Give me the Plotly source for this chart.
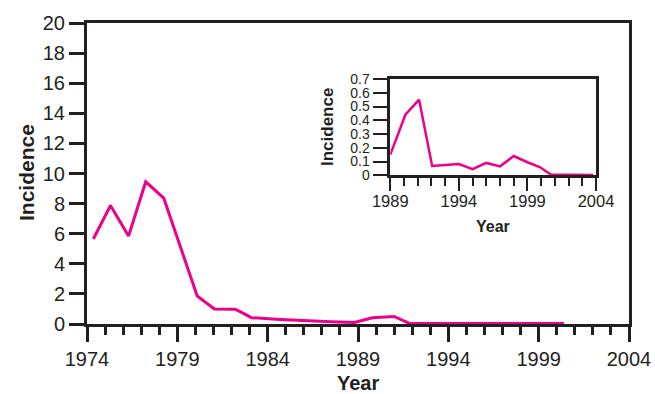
import plotly.graph_objects as go

# Main chart data
main_years = [1974.35, 1975.3, 1976.3, 1977.25, 1978.25, 1980.1, 1981.05, 1982.2,
              1982.5, 1983.1, 1984.7, 1986.0, 1987.5, 1988.8, 1989.8, 1991.0,
              1991.85, 2000.4]
main_incidence = [5.65, 7.87, 5.84, 9.45, 8.36, 1.86, 1.0, 0.98,
                  0.8, 0.42, 0.3, 0.22, 0.15, 0.1, 0.42, 0.5,
                  0.04, 0.04]

# Inset data
inset_years = [1989, 1990.1, 1991.1, 1992.05, 1993, 1994, 1995, 1996, 1997,
               1998, 1999, 1999.9, 2000.7, 2003.8]
inset_incidence = [0.15, 0.44, 0.55, 0.068, 0.075, 0.082, 0.045, 0.09, 0.065,
                   0.14, 0.095, 0.06, 0.005, 0.003]

main_yticks = list(range(0, 21, 2))
inset_yticks = [0, 0.1, 0.2, 0.3, 0.4, 0.5, 0.6, 0.7]
inset_ytext = ["0", "0.1", "0.2", "0.3", "0.4", "0.5", "0.6", "0.7"]

LINE = "#EC008C"
INK = "#231F20"
FONT = "Liberation Sans, Arial, sans-serif"

W, H = 655, 394
ML, MR, MT, MB = 87, 26, 23, 70
PW, PH = W - ML - MR, H - MT - MB


def px(x):
    return (x - ML) / PW


def py(y):
    return (H - MB - y) / PH


fig = go.Figure()
fig.add_trace(go.Scatter(x=main_years, y=main_incidence, mode="lines",
                         line=dict(color=LINE, width=3), xaxis="x", yaxis="y",
                         showlegend=False, hoverinfo="skip"))
fig.add_trace(go.Scatter(x=inset_years, y=inset_incidence, mode="lines",
                         line=dict(color=LINE, width=2.5), xaxis="x2", yaxis="y2",
                         showlegend=False, hoverinfo="skip"))

fig.update_layout(
    width=W, height=H,
    margin=dict(l=ML, r=MR, t=MT, b=MB, autoexpand=False),
    paper_bgcolor="white", plot_bgcolor="white",
    font=dict(family=FONT, color=INK),
    xaxis=dict(
        range=[1974, 2004], tick0=1974, dtick=5, ticks="outside", ticklen=15,
        tickwidth=2.5, tickcolor=INK, showline=True, linewidth=3, linecolor=INK,
        mirror=True, showgrid=False, zeroline=False, automargin=False,
        tickfont=dict(size=20, color=INK),
        minor=dict(dtick=1, tick0=1974, ticks="outside", ticklen=8, tickwidth=2.5,
                   tickcolor=INK, showgrid=False),
    ),
    yaxis=dict(
        range=[0, 20], tickvals=main_yticks, ticks="outside", ticklen=15,
        tickwidth=2.5, tickcolor=INK, showline=True, linewidth=3, linecolor=INK,
        mirror=True, showgrid=False, zeroline=False, automargin=False,
        tickfont=dict(size=20, color=INK),
    ),
    xaxis2=dict(
        domain=[px(390.3), px(596)], anchor="y2",
        range=[1989, 2004], tick0=1989, dtick=5, ticks="outside", ticklen=13,
        tickwidth=2, tickcolor=INK, showline=True, linewidth=2.5, linecolor=INK,
        mirror=True, showgrid=False, zeroline=False, automargin=False,
        tickfont=dict(size=16.5, color=INK), ticklabelstandoff=-4,
        minor=dict(dtick=1, tick0=1989, ticks="outside", ticklen=8, tickwidth=2,
                   tickcolor=INK, showgrid=False),
    ),
    yaxis2=dict(
        domain=[py(175.3), py(79)], anchor="x2",
        range=[0, 0.7], tickvals=inset_yticks, ticktext=inset_ytext,
        ticks="outside", ticklen=15, tickwidth=2, tickcolor=INK,
        showline=True, linewidth=2.5, linecolor=INK, mirror=True,
        showgrid=False, zeroline=False, automargin=False,
        tickfont=dict(size=14, color=INK),
    ),
)

titles = [
    ("Year", 358, 383, 20, 0),
    ("Incidence", 26, 173, 21, -90),
    ("Year", 493, 226, 16, 0),
    ("Incidence", 327, 127, 17, -90),
]
for text, x, y, size, ang in titles:
    fig.add_annotation(text="<b>%s</b>" % text, x=px(x), y=py(y), xref="paper",
                       yref="paper", xanchor="center", yanchor="middle",
                       showarrow=False, textangle=ang,
                       font=dict(size=size, color=INK, family=FONT))

fig.write_html("out.html")
